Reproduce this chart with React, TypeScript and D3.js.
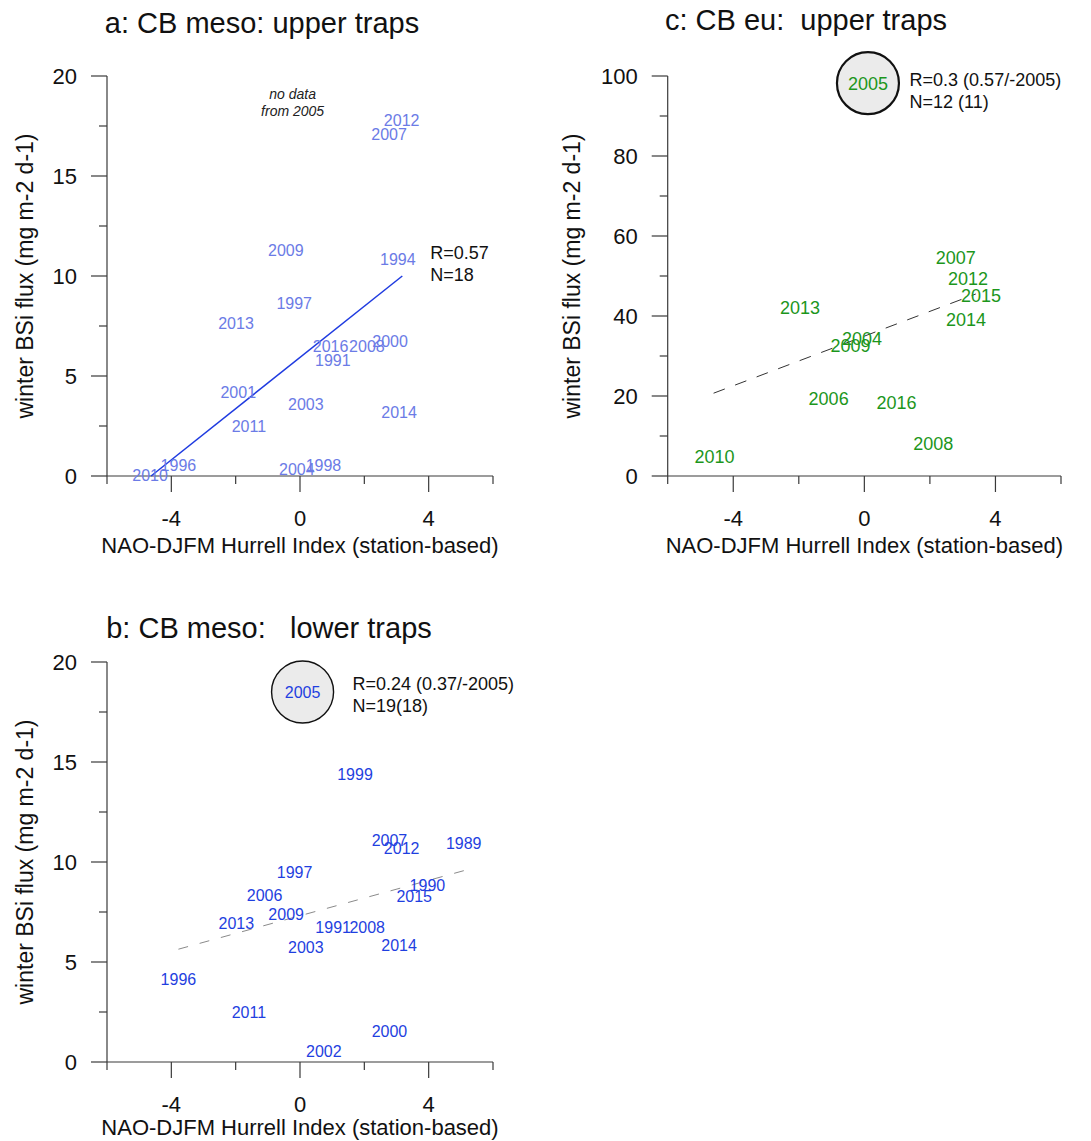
import React from 'react';
import * as d3 from 'd3';

const FONT = 'Arial, "Liberation Sans", Helvetica, sans-serif';

// ---------- Panel a: CB meso upper traps ----------
const aYears = ['2012', '2007', '2009', '1994', '1997', '2013', '2016', '2008', '2000', '1991', '2001', '2003', '2014', '2011', '1996', '2010', '2004', '1998'];
const aNAO = [3.16, 2.77, -0.44, 3.04, -0.18, -1.99, 0.95, 2.08, 2.8, 1.02, -1.92, 0.18, 3.08, -1.59, -3.78, -4.66, -0.1, 0.73];
const aFlux = [17.8, 17.1, 11.27, 10.83, 8.63, 7.63, 6.5, 6.47, 6.75, 5.8, 4.17, 3.58, 3.17, 2.5, 0.55, 0.02, 0.33, 0.55];
const aFitX = [-4.63, 3.18];
const aFitY = [0, 10];
const aStats = ['R=0.57', 'N=18'];
const aNote = ['no data', 'from 2005'];

// ---------- Panel b: CB meso lower traps ----------
const bYears = ['1999', '2007', '2012', '1989', '1997', '2006', '1990', '2015', '2009', '2013', '1991', '2008', '2003', '2014', '1996', '2011', '2000', '2002'];
const bNAO = [1.71, 2.78, 3.16, 5.09, -0.17, -1.1, 3.96, 3.55, -0.43, -1.98, 1.03, 2.09, 0.18, 3.08, -3.78, -1.59, 2.78, 0.74];
const bFlux = [14.38, 11.1, 10.68, 10.93, 9.47, 8.35, 8.85, 8.3, 7.39, 6.93, 6.73, 6.73, 5.73, 5.82, 4.15, 2.48, 1.52, 0.52];
const bOutlierYear = ['2005'];
const bOutlierNAO = [0.08];
const bOutlierFlux = [18.5];
const bFitX = [-3.78, 5.1];
const bFitY = [5.64, 9.57];
const bStats = ['R=0.24 (0.37/-2005)', 'N=19(18)'];

// ---------- Panel c: CB eu upper traps ----------
const cYears = ['2007', '2012', '2015', '2013', '2014', '2004', '2009', '2006', '2016', '2008', '2010'];
const cNAO = [2.79, 3.16, 3.56, -1.96, 3.1, -0.07, -0.42, -1.09, 0.98, 2.1, -4.57];
const cFlux = [54.7, 49.4, 45, 42.2, 39, 34.4, 32.6, 19.4, 18.4, 8, 4.8];
const cOutlierYear = ['2005'];
const cOutlierNAO = [0.11];
const cOutlierFlux = [98.2];
const cFitX = [-4.6, 3.4];
const cFitY = [20.7, 45.5];
const cStats = ['R=0.3 (0.57/-2005)', 'N=12 (11)'];

const xMajor = [-4, 0, 4];
const xMinor = [-6, -2, 2, 6];
const xDomain = [-6, 6];
const xTitle = 'NAO-DJFM Hurrell Index (station-based)';
const yTitle = 'winter BSi flux (mg m-2 d-1)';

type PanelProps = {
  title: string;
  titleX: number;
  titleY: number;
  x0: number; x1: number; yTop: number; yBot: number;
  yDomain: [number, number];
  yMajor: number[]; yMinor: number[];
  years: string[]; nao: number[]; flux: number[];
  color: string; labelSize: number;
  fitX: number[]; fitY: number[];
  fitColor: string; fitDash?: string; fitWidth: number;
  stats: string[]; statsAt: [number, number];
  outYear?: string[]; outNAO?: number[]; outFlux?: number[];
  outStroke?: number; outSize?: number;
  yLabelX: number;
  xTitleOffset: number;
  note?: string[]; noteAt?: [number, number];
};

function Panel(p: PanelProps) {
  const x = d3.scaleLinear().domain(xDomain).range([p.x0, p.x1]);
  const y = d3.scaleLinear().domain(p.yDomain).range([p.yBot, p.yTop]);
  const axisColor = '#3a3a3a';
  const line = d3.line<number>().x((d) => x(p.fitX[d])).y((d) => y(p.fitY[d]));
  return (
    <g>
      <text x={p.titleX} y={p.titleY} fontSize={29} textAnchor="middle" fill="#111" style={{ whiteSpace: 'pre' }}>{p.title}</text>
      {/* y axis */}
      <line x1={p.x0} x2={p.x0} y1={y(p.yDomain[0])} y2={y(p.yDomain[1])} stroke={axisColor} strokeWidth={1.2} />
      {p.yMajor.map((v) => (
        <g key={'ym' + v}>
          <line x1={p.x0 - 16} x2={p.x0} y1={y(v)} y2={y(v)} stroke={axisColor} strokeWidth={1.2} />
          <text x={p.x0 - 30} y={y(v)} dy="0.36em" textAnchor="end" fontSize={22} fill="#111">{v}</text>
        </g>
      ))}
      {p.yMinor.map((v) => (
        <line key={'yn' + v} x1={p.x0 - 8} x2={p.x0} y1={y(v)} y2={y(v)} stroke={axisColor} strokeWidth={1.2} />
      ))}
      <text transform={`translate(${p.yLabelX},${(p.yTop + p.yBot) / 2}) rotate(-90)`} textAnchor="middle" dy="0.36em" fontSize={23} fill="#111">{yTitle}</text>
      {/* x axis */}
      <line x1={p.x0} x2={p.x1} y1={p.yBot} y2={p.yBot} stroke={axisColor} strokeWidth={1.2} />
      {xMajor.map((v) => (
        <g key={'xm' + v}>
          <line x1={x(v)} x2={x(v)} y1={p.yBot} y2={p.yBot + 16} stroke={axisColor} strokeWidth={1.2} />
          <text x={x(v)} y={p.yBot + 42} dy="0.36em" textAnchor="middle" fontSize={22} fill="#111">{v}</text>
        </g>
      ))}
      {xMinor.map((v) => (
        <line key={'xn' + v} x1={x(v)} x2={x(v)} y1={p.yBot} y2={p.yBot + 8} stroke={axisColor} strokeWidth={1.2} />
      ))}
      <text x={(p.x0 + p.x1) / 2} y={p.yBot + p.xTitleOffset} dy="0.36em" textAnchor="middle" fontSize={22} fill="#111">{xTitle}</text>
      {/* fit line */}
      <path d={line([0, 1]) || ''} fill="none" stroke={p.fitColor} strokeWidth={p.fitWidth} strokeDasharray={p.fitDash} />
      {/* outlier */}
      {p.outYear && p.outYear.map((yr, i) => (
        <g key={'o' + yr}>
          <circle cx={x(p.outNAO![i])} cy={y(p.outFlux![i])} r={31} fill="#ebebeb" stroke="#111" strokeWidth={p.outStroke} />
          <text x={x(p.outNAO![i])} y={y(p.outFlux![i])} dy="0.36em" textAnchor="middle" fontSize={p.outSize} fill={p.color}>{yr}</text>
        </g>
      ))}
      {/* year labels */}
      {p.years.map((yr, i) => (
        <text key={yr + i} x={x(p.nao[i])} y={y(p.flux[i])} dy="0.36em" textAnchor="middle" fontSize={p.labelSize} fill={p.color}>{yr}</text>
      ))}
      {/* stats */}
      {p.stats.map((s, i) => (
        <text key={s} x={x(p.statsAt[0])} y={y(p.statsAt[1]) + i * 22} dy="0.36em" fontSize={18} fill="#111" style={{ whiteSpace: 'pre' }}>{s}</text>
      ))}
      {p.note && p.note.map((s, i) => (
        <text key={s} x={x(p.noteAt![0])} y={y(p.noteAt![1]) + i * 17} dy="0.36em" textAnchor="middle" fontSize={14} fontStyle="italic" fill="#222">{s}</text>
      ))}
    </g>
  );
}

export default function App() {
  return (
    <svg width={1091} height={1141} style={{ display: 'block', position: 'absolute', left: 0, top: 0, background: '#fff' }} fontFamily={FONT}>
      <rect width={1091} height={1141} fill="#fff" />
      <Panel
        title="a: CB meso: upper traps" titleX={262} titleY={33}
        x0={107} x1={493} yTop={76} yBot={476} yDomain={[0, 20]}
        yMajor={[0, 5, 10, 15, 20]} yMinor={[2.5, 7.5, 12.5, 17.5]}
        years={aYears} nao={aNAO} flux={aFlux} color="#6b7be6" labelSize={16}
        fitX={aFitX} fitY={aFitY} fitColor="#1f3be0" fitWidth={1.5}
        stats={aStats} statsAt={[4.05, 11.15]}
        yLabelX={25} xTitleOffset={69}
        note={aNote} noteAt={[-0.23, 19.1]}
      />
      <Panel
        title="c: CB eu:  upper traps" titleX={806} titleY={30}
        x0={667.7} x1={1061} yTop={76} yBot={476} yDomain={[0, 100]}
        yMajor={[0, 20, 40, 60, 80, 100]} yMinor={[10, 30, 50, 70, 90]}
        years={cYears} nao={cNAO} flux={cFlux} color="#1c961c" labelSize={18}
        fitX={cFitX} fitY={cFitY} fitColor="#333" fitDash="12,11" fitWidth={1}
        stats={cStats} statsAt={[1.38, 99]}
        outYear={cOutlierYear} outNAO={cOutlierNAO} outFlux={cOutlierFlux} outStroke={2.2} outSize={18}
        yLabelX={572} xTitleOffset={69}
      />
      <Panel
        title="b: CB meso:   lower traps" titleX={269} titleY={638}
        x0={107} x1={493} yTop={662} yBot={1062} yDomain={[0, 20]}
        yMajor={[0, 5, 10, 15, 20]} yMinor={[2.5, 7.5, 12.5, 17.5]}
        years={bYears} nao={bNAO} flux={bFlux} color="#1f3fe0" labelSize={16}
        fitX={bFitX} fitY={bFitY} fitColor="#8a8a8a" fitDash="10,12" fitWidth={1}
        stats={bStats} statsAt={[1.63, 18.9]}
        outYear={bOutlierYear} outNAO={bOutlierNAO} outFlux={bOutlierFlux} outStroke={1.4} outSize={16}
        yLabelX={25} xTitleOffset={65}
      />
    </svg>
  );
}
